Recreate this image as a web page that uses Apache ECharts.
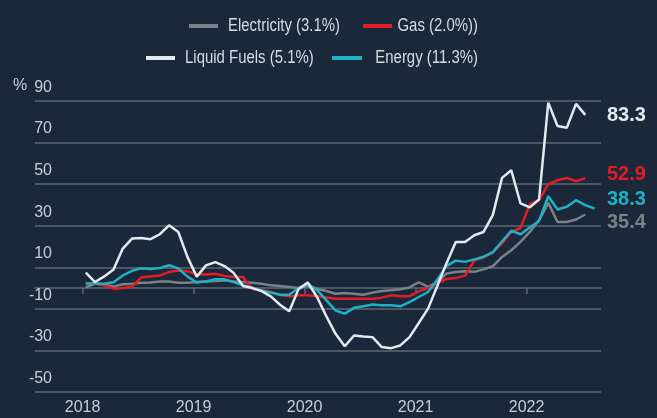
<!DOCTYPE html>
<html><head><meta charset="utf-8">
<script src="https://cdn.jsdelivr.net/npm/echarts@6/dist/echarts.min.js"></script>
<style>html,body{margin:0;padding:0;background:#1a2839;} #c{width:657px;height:418px;}</style>
</head><body><div id="c"></div>
<script>
// Monthly values from Jan 2018
const yearLabels = ['2018', '2019', '2020', '2021', '2022'];
const seriesNames = ['Electricity (3.1%)', 'Gas (2.0%))', 'Liquid Fuels (5.1%)', 'Energy (11.3%)'];
const electricity = [0.3, 2.2, 1.6, 0.8, 1.8, 2.1, 2.6, 2.7, 3.2, 3.2, 2.6, 2.6,
  2.9, 3.2, 3.4, 3.7, 3.2, 2.9, 2.6, 2.1, 1.3, 1.0, 0.5, 0.0,
  1.0, -0.3, -1.4, -2.7, -2.4, -2.7, -3.2, -2.2, -1.4, -1.1, -0.6, 0.3,
  2.8, 0.6, 2.9, 7.0, 7.7, 8.1, 7.8, 9.0, 10.5, 15.0, 18.2, 22.2,
  27.0, 32.6, 41.0, 31.8, 31.8, 33.0, 35.4];
const gas = [2.5, 2.1, 1.3, -0.3, 0.0, 0.7, 5.2, 5.6, 6.1, 7.7, 8.5, 8.1,
  6.6, 6.5, 6.9, 5.8, 5.3, 5.3, -0.5, -1.0, -1.9, -3.3, -4.0, -3.5,
  -3.5, -3.9, -4.5, -5.1, -5.1, -5.1, -5.1, -5.1, -4.6, -3.5, -3.9, -3.9,
  -1.6, 0.0, 2.2, 4.4, 4.8, 6.0, 13.2, 14.7, 17.2, 21.5, 27.0, 28.9,
  40.4, 42.3, 50.0, 51.9, 53.0, 51.4, 52.9];
const liquidFuels = [7.4, 2.9, 5.6, 8.9, 19.0, 23.8, 24.1, 23.5, 25.9, 30.2, 27.0, 14.9,
  5.5, 10.9, 12.5, 10.6, 7.2, 1.0, 0.0, -1.5, -4.0, -8.0, -11.2, -0.5,
  2.7, -4.3, -13.5, -22.0, -28.0, -22.8, -23.3, -23.6, -28.4, -28.9, -27.6, -23.6,
  -16.8, -9.9, 1.0, 12.0, 22.2, 22.2, 25.4, 27.0, 35.1, 53.0, 56.7, 40.7,
  38.8, 42.6, 89.2, 78.0, 77.1, 88.6, 83.3];
const energy = [2.2, 2.2, 2.1, 2.8, 6.1, 8.3, 9.5, 9.2, 9.6, 11.0, 9.5, 5.5,
  2.7, 3.2, 4.2, 4.2, 2.9, 1.3, 0.2, -1.1, -2.2, -3.2, -3.2, 0.0,
  2.0, -1.0, -5.8, -10.8, -12.3, -9.5, -8.7, -7.9, -8.3, -8.3, -8.8, -6.8,
  -4.3, -1.9, 4.0, 10.7, 13.2, 12.6, 13.8, 15.1, 17.2, 22.5, 27.6, 25.9,
  29.1, 32.3, 44.2, 37.8, 39.1, 42.3, 39.9, 38.3];
const endLabels = ['83.3', '52.9', '38.3', '35.4'];

const colors = { elec: '#7a8288', gas: '#e31d26', liq: '#e2eaef', energy: '#1fb2c6' };
const MONTH_OFFSET = 0.35;
const toPoints = arr => arr.map((v, i) => [i + MONTH_OFFSET, v]);
const yearTicks = yearLabels.map((y, i) => i * 12);

const chart = echarts.init(document.getElementById('c'), null, { renderer: 'canvas' });
const axisFont = 'Liberation Sans, Arial, sans-serif';
const xMin = -5.14, xMax = 56.05;
const LEG_SCALE = 0.83;
const legendFont = '18px ' + axisFont;
const legendColor = '#d6dbdf';

function lineSeries(name, data, color, z) {
  return {
    name: name, type: 'line', data: toPoints(data), symbol: 'none', z: z,
    lineStyle: { color: color, width: 2.5 }, itemStyle: { color: color },
    xAxisIndex: 0, yAxisIndex: 0, animation: false
  };
}
function legendIcon(x, y, w, color) {
  return { type: 'rect', x: x, y: y - 2, shape: { x: 0, y: 0, width: w, height: 4 }, style: { fill: color } };
}
function legendText(x, y, text, align) {
  return { type: 'text', x: x, y: y, scaleX: LEG_SCALE,
    style: { text: text, fill: legendColor, font: legendFont, align: align, verticalAlign: 'middle' } };
}

chart.setOption({
  backgroundColor: '#1a2839',
  animation: false,
  grid: { left: 35, right: 56, top: 101, bottom: 26 },
  xAxis: [{
    type: 'value', min: xMin, max: xMax, position: 'bottom',
    axisLine: { show: false, onZero: false }, axisTick: { show: false }, splitLine: { show: false },
    axisLabel: {
      customValues: yearTicks, color: '#c9ced3', fontSize: 16, fontFamily: axisFont, margin: 8,
      formatter: v => yearLabels[Math.round(v / 12)]
    }
  }, {
    type: 'value', min: xMin, max: xMax, position: 'bottom',
    axisLine: { show: true, onZero: true, lineStyle: { color: '#5d6770', width: 1.5 } },
    axisTick: { show: true, customValues: yearTicks, length: 6, lineStyle: { color: '#5d6770', width: 1.5 } },
    axisLabel: { show: false }, splitLine: { show: false }
  }],
  yAxis: {
    type: 'value', min: -50, max: 90, interval: 20,
    axisLine: { show: false }, axisTick: { show: false },
    splitLine: { lineStyle: { color: '#5d6770', width: 1.5 } },
    axisLabel: {
      color: '#c9ced3', fontSize: 16, fontFamily: axisFont, margin: -17, align: 'right',
      verticalAlign: 'bottom', lineHeight: 27
    }
  },
  series: [
    lineSeries(seriesNames[0], electricity, colors.elec, 2),
    lineSeries(seriesNames[1], gas, colors.gas, 3),
    lineSeries(seriesNames[3], energy, colors.energy, 4),
    lineSeries(seriesNames[2], liquidFuels, colors.liq, 5)
  ],
  graphic: [
    legendIcon(189, 26, 29, colors.elec),
    legendText(228, 26, seriesNames[0], 'left'),
    legendIcon(363, 26, 29, colors.gas),
    legendText(478, 26, seriesNames[1], 'right'),
    legendIcon(146, 58, 29, colors.liq),
    legendText(185, 58, seriesNames[2], 'left'),
    legendIcon(332, 58, 30, colors.energy),
    legendText(478, 58, seriesNames[3], 'right'),
    { type: 'text', left: 13, top: 78, style: { text: '%', fill: '#c9ced3', font: '16px ' + axisFont } },
    { type: 'text', left: 607, top: 105, style: { text: endLabels[0], fill: '#e2eaef', font: 'bold 20px ' + axisFont } },
    { type: 'text', left: 607, top: 164, style: { text: endLabels[1], fill: colors.gas, font: 'bold 20px ' + axisFont } },
    { type: 'text', left: 607, top: 189, style: { text: endLabels[2], fill: colors.energy, font: 'bold 20px ' + axisFont } },
    { type: 'text', left: 607, top: 212, style: { text: endLabels[3], fill: colors.elec, font: 'bold 20px ' + axisFont } }
  ]
});
</script></body></html>
